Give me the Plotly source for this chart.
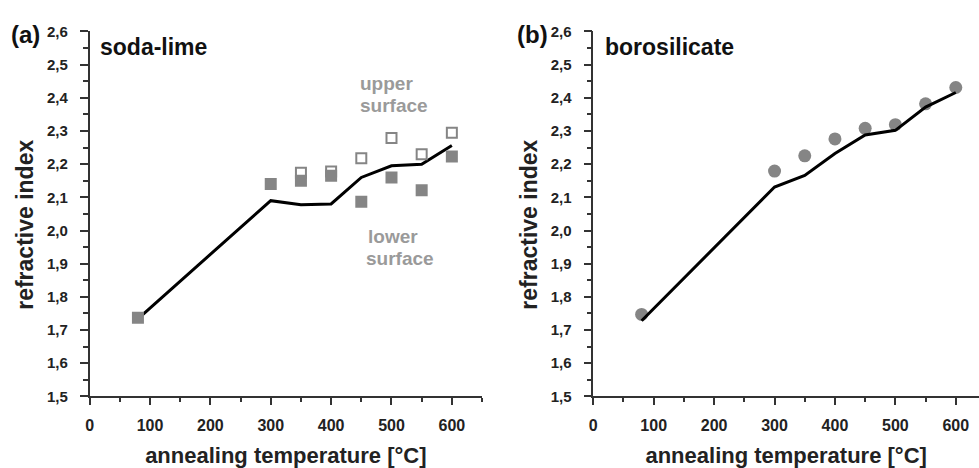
import plotly.graph_objects as go

# ---- data ----
temps = [80, 300, 350, 400, 450, 500, 550, 600]

# (a) soda-lime
sl_fit = [1.734, 2.090, 2.078, 2.080, 2.160, 2.195, 2.200, 2.256]
sl_lower_x = [80, 300, 350, 400, 450, 500, 550, 600]
sl_lower = [1.737, 2.140, 2.150, 2.165, 2.087, 2.160, 2.121, 2.223]
sl_upper_x = [350, 400, 450, 500, 550, 600]
sl_upper = [2.174, 2.178, 2.218, 2.279, 2.230, 2.295]

# (b) borosilicate
bs_fit = [1.728, 2.131, 2.166, 2.232, 2.288, 2.302, 2.372, 2.416]
bs_meas = [1.747, 2.179, 2.225, 2.276, 2.308, 2.319, 2.382, 2.431]

x_ticks = [0, 100, 200, 300, 400, 500, 600]
y_ticks = [1.5, 1.6, 1.7, 1.8, 1.9, 2.0, 2.1, 2.2, 2.3, 2.4, 2.5, 2.6]

W, H = 979, 468
FONT = "Liberation Sans, Arial, sans-serif"
AX = "#333333"
GRAY = "#858585"

fig = go.Figure()

# left panel
fig.add_trace(go.Scatter(x=temps, y=sl_fit, mode="lines", line=dict(color="black", width=3),
                         xaxis="x", yaxis="y", showlegend=False))
fig.add_trace(go.Scatter(x=sl_upper_x, y=sl_upper, mode="markers",
                         marker=dict(symbol="square", size=10, color="white",
                                     line=dict(color=GRAY, width=2)),
                         xaxis="x", yaxis="y", showlegend=False))
fig.add_trace(go.Scatter(x=sl_lower_x, y=sl_lower, mode="markers",
                         marker=dict(symbol="square", size=12, color=GRAY,
                                     line=dict(color=GRAY, width=0)),
                         xaxis="x", yaxis="y", showlegend=False))

# right panel
fig.add_trace(go.Scatter(x=temps, y=bs_meas, mode="markers",
                         marker=dict(symbol="circle", size=13, color=GRAY,
                                     line=dict(width=0)),
                         xaxis="x2", yaxis="y2", showlegend=False))
fig.add_trace(go.Scatter(x=temps, y=bs_fit, mode="lines", line=dict(color="black", width=3),
                         xaxis="x2", yaxis="y2", showlegend=False))

ydom = [1 - 402 / H, 1 - 23.3 / H]
x1dom = [86 / W, 480 / W]
x2dom = [591.7 / W, 1.0]

def xaxis(dom, anchor, rng):
    return dict(domain=dom, anchor=anchor, range=rng, tickvals=x_ticks,
                showgrid=False, zeroline=False, showline=True, linecolor=AX, linewidth=1.5,
                ticks="outside", ticklen=7, tickwidth=1.5, tickcolor=AX,
                minor=dict(ticks="outside", dtick=50, ticklen=4, tickwidth=1.5, tickcolor=AX),
                tickfont=dict(family=FONT, size=16, color="#222", weight="bold"),
                ticklabelstandoff=7,
                title=dict(text="annealing temperature [°C]", standoff=14,
                           font=dict(family=FONT, size=22, color="#222", weight="bold")))

def yaxis(anchor):
    return dict(domain=ydom, anchor=anchor, range=[1.5, 2.6], tickvals=y_ticks,
                tickformat=".1f",
                showgrid=False, zeroline=False, showline=True, linecolor=AX, linewidth=1.5,
                ticks="outside", ticklen=8, tickwidth=1.5, tickcolor=AX,
                minor=dict(ticks="outside", dtick=0.05, ticklen=5, tickwidth=1.5, tickcolor=AX),
                tickfont=dict(family=FONT, size=15, color="#222", weight="bold"),
                ticklabelstandoff=9)

x2_max = (W - 591.7) / (450 - 86) * 600

fig.update_layout(
    width=W, height=H,
    margin=dict(l=0, r=0, t=0, b=0),
    paper_bgcolor="white", plot_bgcolor="white",
    separators=",.",
    xaxis=xaxis(x1dom, "y", [0, 650]),
    yaxis=yaxis("x"),
    xaxis2=xaxis(x2dom, "y2", [0, x2_max]),
    yaxis2=yaxis("x2"),
)

def txt(x, y, s, size, color="#111", xanchor="left", angle=0):
    fig.add_annotation(x=x / W, y=1 - y / H, xref="paper", yref="paper", text=s,
                       showarrow=False, xanchor=xanchor, yanchor="middle", align="left",
                       textangle=angle,
                       font=dict(family=FONT, size=size, color=color, weight="bold"))

txt(5, 26, "(a)", 24)
txt(94, 39, "soda-lime", 23)
txt(355, 77, "upper", 19, color="#9a9a9a")
txt(355, 100, "surface", 19, color="#9a9a9a")
txt(363, 236, "lower", 19, color="#9a9a9a")
txt(361, 259, "surface", 19, color="#9a9a9a")
txt(21, 224, "refractive index", 23, color="#222", xanchor="center", angle=-90)

txt(513, 26, "(b)", 24)
txt(601, 39, "borosilicate", 23)
txt(527, 224, "refractive index", 23, color="#222", xanchor="center", angle=-90)

fig.write_html("out.html")
